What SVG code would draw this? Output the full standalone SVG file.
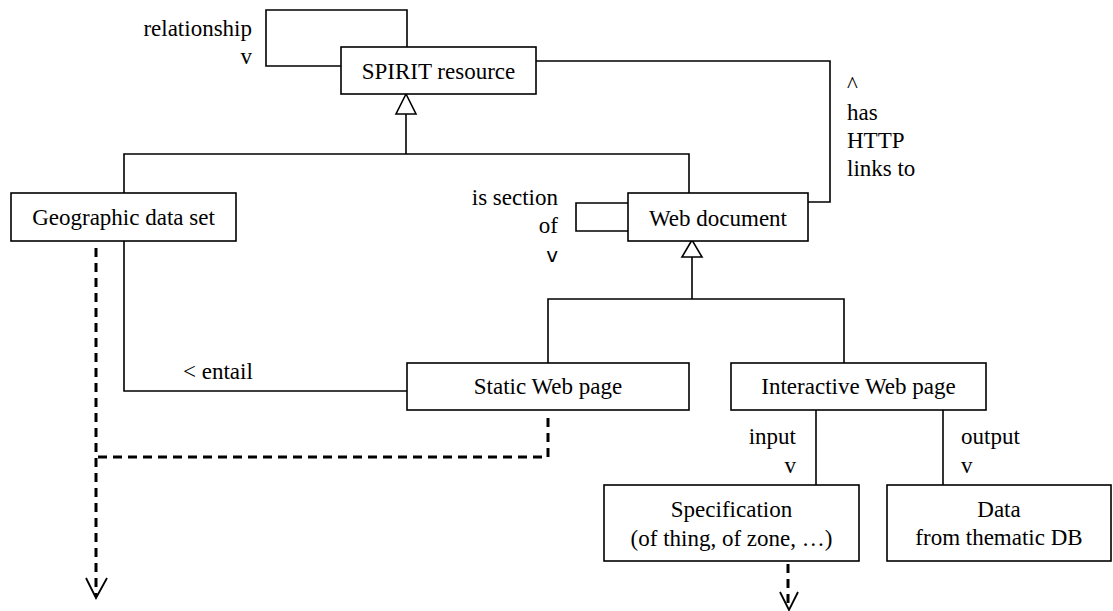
<svg xmlns="http://www.w3.org/2000/svg" width="1113" height="611" viewBox="0 0 1113 611">
<style>
.box{fill:#fff;stroke:#000;stroke-width:1.6}
.ln{fill:none;stroke:#000;stroke-width:1.6}
.dash{fill:none;stroke:#000;stroke-width:3;stroke-dasharray:9 6}
.tri{fill:#fff;stroke:#000;stroke-width:1.6}
.arr{fill:none;stroke:#000;stroke-width:1.8}
.t{font-family:"Liberation Serif","Times New Roman",serif;font-size:23px;fill:#000}
.sans{font-family:"DejaVu Sans","Liberation Sans",sans-serif;font-size:20px;fill:#000}
.c{text-anchor:middle}
.r{text-anchor:end}
</style>
<rect width="1113" height="611" fill="#fff"/>
<g id="connectors">
  <polyline class="ln" points="407,47 407,10 266,10 266,66 341,66"/>
  <polyline class="ln" points="536,61 830,61 830,202 808,202"/>
  <polyline class="ln" points="628,203 576,203 576,231 628,231"/>
  <polyline class="ln" points="406,114 406,154"/>
  <polyline class="ln" points="124,193 124,154 689,154 689,193"/>
  <polygon class="tri" points="406,94 396,114 416,114"/>
  <polyline class="ln" points="692,257 692,299"/>
  <polyline class="ln" points="548,363 548,299 844,299 844,363"/>
  <polygon class="tri" points="692,240 682,257 702,257"/>
  <polyline class="ln" points="124,241 124,391 407,391"/>
  <polyline class="ln" points="816,410 816,485"/>
  <polyline class="ln" points="943,410 943,485"/>
  <polyline class="dash" points="96,248 96,596"/>
  <polyline class="dash" points="548,418 548,457 96,457"/>
  <polyline class="dash" points="788,564 788,608"/>
  <polyline class="arr" points="86,578 96,598 107,578"/>
  <polyline class="arr" points="780,592 789,610 798,592"/>
  <text class="t r" x="252" y="36">relationship</text>
  <text class="t r" x="252" y="64">v</text>
  <text class="t" x="847" y="92">^</text>
  <text class="t" x="847" y="120">has</text>
  <text class="t" x="847" y="148">HTTP</text>
  <text class="t" x="847" y="176">links to</text>
  <text class="t r" x="558" y="205">is section</text>
  <text class="t r" x="558" y="233">of</text>
  <text class="sans r" x="558" y="262">v</text>
  <text class="t" x="183" y="379">&lt; entail</text>
  <text class="t r" x="796" y="444">input</text>
  <text class="t r" x="796" y="473">v</text>
  <text class="t" x="961" y="444">output</text>
  <text class="t" x="961" y="473">v</text>
</g>
<g id="spirit-resource">
  <rect class="box" x="341" y="47" width="195" height="47"/>
  <text class="t c" x="438.5" y="79">SPIRIT resource</text>
</g>
<g id="geographic-data-set">
  <rect class="box" x="11" y="193" width="225" height="48"/>
  <text class="t c" x="123.5" y="225">Geographic data set</text>
</g>
<g id="web-document">
  <rect class="box" x="628" y="193" width="180" height="48"/>
  <text class="t c" x="718" y="226">Web document</text>
</g>
<g id="static-web-page">
  <rect class="box" x="407" y="363" width="282" height="47"/>
  <text class="t c" x="548" y="394">Static Web page</text>
</g>
<g id="interactive-web-page">
  <rect class="box" x="731" y="363" width="255" height="47"/>
  <text class="t c" x="858.5" y="394">Interactive Web page</text>
</g>
<g id="specification">
  <rect class="box" x="604" y="485" width="255" height="76"/>
  <text class="t c" x="731.5" y="517">Specification</text>
  <text class="t c" x="731.5" y="546">(of thing, of zone, …)</text>
</g>
<g id="data">
  <rect class="box" x="887" y="485" width="224" height="76"/>
  <text class="t c" x="999" y="517">Data</text>
  <text class="t c" x="999" y="545">from thematic DB</text>
</g>
</svg>
